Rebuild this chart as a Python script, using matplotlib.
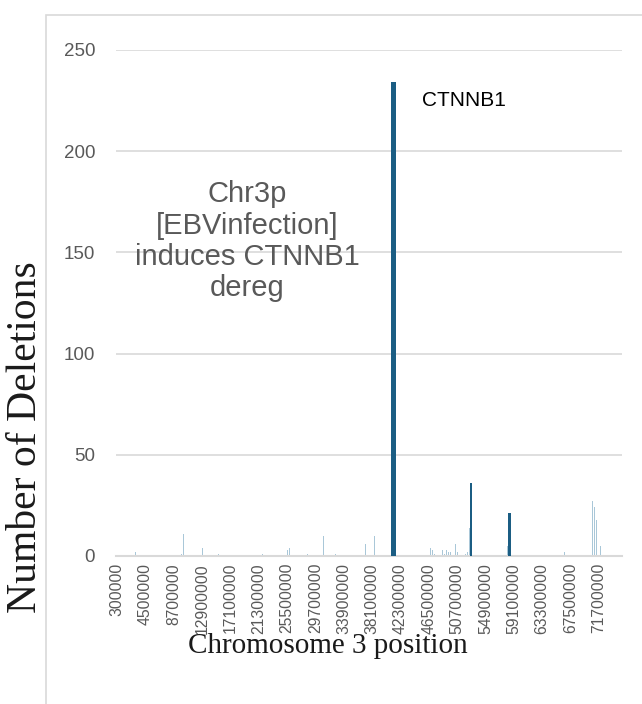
import numpy as np
import matplotlib
matplotlib.use('Agg')
import matplotlib.pyplot as plt
from matplotlib.patches import Rectangle


# category axis: 300 kb bins along chromosome 3p
bin_size = 300000
n_bins = 250
bin_starts = bin_size * np.arange(1, n_bins + 1)

# bins with deletions (position in bp -> count)
light_positions = [3000000, 9900000, 10200000, 12900000, 15300000, 21900000,
                   25500000, 25800000, 28500000, 30900000, 32700000, 37200000,
                   38400000, 46800000, 47100000, 47400000, 48600000, 48900000,
                   49200000, 49500000, 49800000, 50400000, 50700000, 51900000,
                   52200000, 52500000, 58200000, 66600000, 70800000, 71100000,
                   71400000, 72000000]
light_counts = [2, 1, 11, 4, 1, 1,
                3, 4, 1, 10, 1, 6,
                10, 4, 3, 1, 3, 1,
                3, 2, 2, 6, 2, 1,
                2, 14, 5, 2, 27, 24,
                18, 5]

dark_positions = [41100000, 41400000, 52800000, 58500000]
dark_counts = [234, 234, 36, 21]

label_step = 14
y_ticks = [0, 50, 100, 150, 200, 250]

annotation_text = "Chr3p\n[EBVinfection]\ninduces CTNNB1\ndereg"
gene_label = "CTNNB1"

light_colour = '#a9c7d8'
dark_colour = '#1b5d83'
grey_text = '#595959'
grid_colour = '#d9d9d9'


def counts_per_bin(positions, counts):
    values = np.zeros(n_bins)
    for pos, c in zip(positions, counts):
        values[int(round(pos / bin_size)) - 1] = c
    return values


light_values = counts_per_bin(light_positions, light_counts)
dark_values = counts_per_bin(dark_positions, dark_counts)
idx = np.arange(n_bins)

W, H = 642, 704
fig = plt.figure(figsize=(W / 100, H / 100), dpi=100)

# chart area border (partly outside the picture)
fig.patches.append(Rectangle((46 / W, -0.1), 1.2, (H - 15) / H + 0.1,
                             transform=fig.transFigure, fill=False,
                             edgecolor=grid_colour, linewidth=1.2))

ax = fig.add_axes([116 / W, (H - 556) / H, (622 - 116) / W, (556 - 50) / H])

ax.bar(idx, light_values, width=0.5, color=light_colour, zorder=2)
ax.bar(idx, dark_values, width=1.2, color=dark_colour, zorder=3)

ax.set_xlim(-0.5, n_bins - 0.5)
ax.set_ylim(0, 250)
ax.set_yticks(y_ticks)
ax.set_yticklabels([str(t) for t in y_ticks], fontsize=13.5, color=grey_text,
                   family='Liberation Sans')
tick_idx = idx[::label_step][:18]
ax.set_xticks(tick_idx)
ax.set_xticklabels([str(bin_starts[i]) for i in tick_idx], rotation=90,
                   fontsize=11.3, color=grey_text, family='Liberation Sans')
ax.tick_params(axis='both', length=0)
ax.tick_params(axis='y', pad=15)
ax.tick_params(axis='x', pad=5)

ax.grid(axis='y', color=grid_colour, linewidth=1.2, zorder=0)
ax.set_axisbelow(True)
for side in ['left', 'right', 'top']:
    ax.spines[side].set_visible(False)
ax.spines['bottom'].set_color(grid_colour)
ax.spines['bottom'].set_linewidth(1.5)

ax.text(0.259, 0.622, annotation_text, transform=ax.transAxes, ha='center',
        va='center', fontsize=21, color=grey_text, family='Liberation Sans',
        linespacing=1.15)
ax.text(0.605, 0.901, gene_label, transform=ax.transAxes, ha='left',
        va='center', fontsize=15, color='black', family='Liberation Sans')

fig.text(26 / W, 1 - 437 / H, "Number of Deletions", rotation=90,
         ha='center', va='center', fontsize=30, family='Liberation Serif',
         color='#1a1a1a')
fig.text(328 / W, 1 - 646 / H, "Chromosome 3 position", ha='center',
         va='center', fontsize=21, family='Liberation Serif', color='#1a1a1a')

fig.savefig('out.png', dpi=100)
